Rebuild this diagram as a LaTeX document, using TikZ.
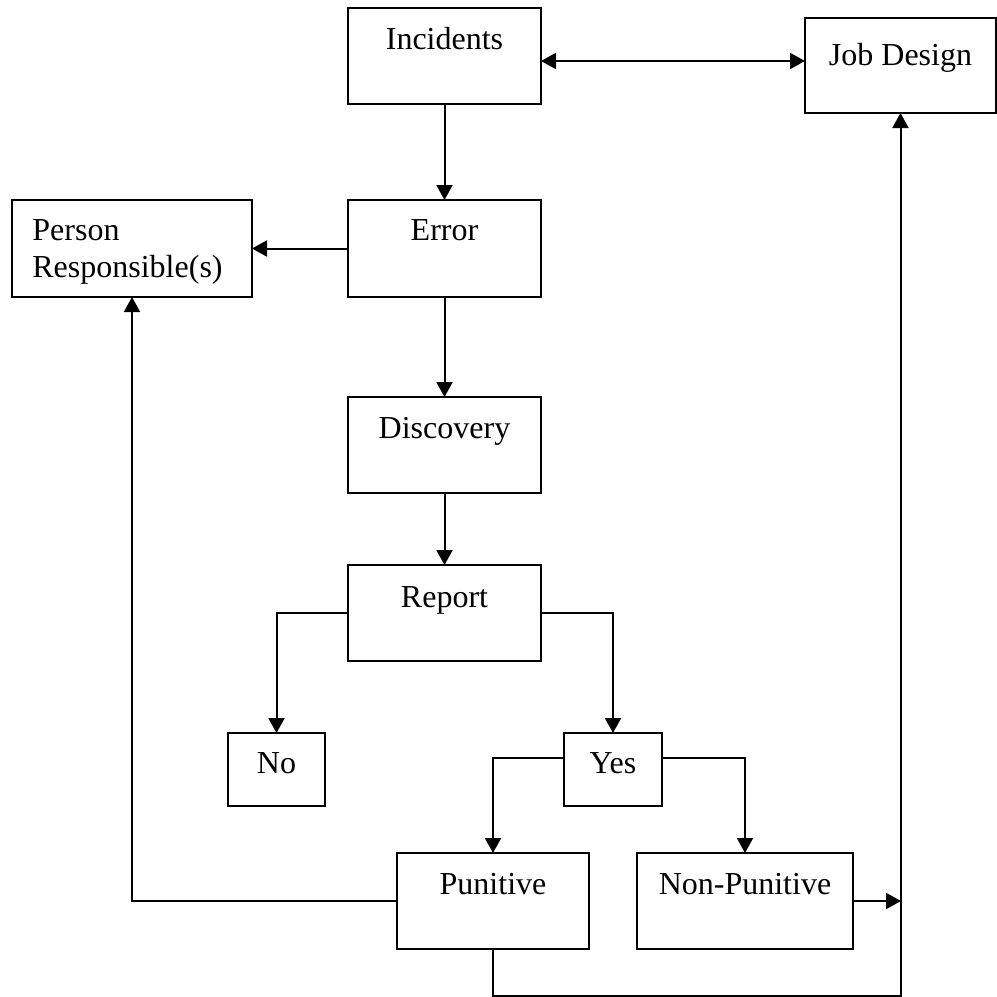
\documentclass[tikz,border=0pt]{standalone}
\usepackage{fontspec}
\setmainfont{Liberation Serif}
\usetikzlibrary{arrows.meta}
\begin{document}
\begin{tikzpicture}[x=0.5pt,y=-0.5pt,
  box/.style={draw=black, line width=1pt, rectangle, inner sep=0pt, outer sep=0pt, fill=white},
  lbl/.style={anchor=base, inner sep=0pt, font=\fontsize{16}{19}\selectfont},
  lbll/.style={anchor=base west, inner sep=0pt, font=\fontsize{16}{19}\selectfont},
  arr/.style={line width=1pt, -{Triangle[length=7.5pt,width=8pt]}},
  arrboth/.style={line width=1pt, {Triangle[length=7.5pt,width=8pt]}-{Triangle[length=7.5pt,width=8pt]}}]
\useasboundingbox (0,0) rectangle (997,997);
% boxes
\node[box, minimum width=96.5pt, minimum height=48pt] (inc) at (444.5,56) {};
\node[box, minimum width=95.5pt, minimum height=47.5pt] (job) at (900.5,65.5) {};
\node[box, minimum width=120pt, minimum height=48.5pt] (per) at (132,248.5) {};
\node[box, minimum width=96.5pt, minimum height=48.5pt] (err) at (444.5,248.5) {};
\node[box, minimum width=96.5pt, minimum height=48pt] (dis) at (444.5,445) {};
\node[box, minimum width=96.5pt, minimum height=48pt] (rep) at (444.5,613) {};
\node[box, minimum width=48.5pt, minimum height=36.5pt] (no) at (276.5,769.5) {};
\node[box, minimum width=49pt, minimum height=36.5pt] (yes) at (613,769.5) {};
\node[box, minimum width=96pt, minimum height=48pt] (pun) at (493,901) {};
\node[box, minimum width=108pt, minimum height=48pt] (non) at (745,901) {};
% texts
\node[lbl] (tinc) at (444.5,49) {Incidents};
\node[lbl] (tjob) at (900.5,65) {Job Design};
\node[lbll] (tper1) at (32,240) {Person};
\node[lbll] (tper2) at (32,277) {Responsible(s)};
\node[lbl] (terr) at (444.5,240) {Error};
\node[lbl] (tdis) at (444.5,438) {Discovery};
\node[lbl] (trep) at (444.5,607) {Report};
\node[lbl] (tno) at (276.5,773) {No};
\node[lbl] (tyes) at (613,773) {Yes};
\node[lbl] (tpun) at (493,894) {Punitive};
\node[lbl] (tnon) at (745,894) {Non-Punitive};
% helper coordinates
\coordinate (l61) at (0,61);
\coordinate (l758) at (0,758);
\coordinate (l996) at (0,996);
\coordinate (jn) at (901,901);
% connectors
\draw[arrboth] (inc.east |- l61) -- (job.west |- l61);
\draw[arr] (inc.south) -- (err.north);
\draw[arr] (err.west) -- (per.east);
\draw[arr] (err.south) -- (dis.north);
\draw[arr] (dis.south) -- (rep.north);
\draw[arr] (rep.west) -| (no.north);
\draw[arr] (rep.east) -| (yes.north);
\draw[arr] (yes.west |- l758) -| (pun.north);
\draw[arr] (yes.east |- l758) -| (non.north);
\draw[arr] (pun.west) -| (per.south);
\draw[arr] (non.east) -- (jn);
\draw[arr] (pun.south) -- (pun.south |- l996) -| (job.south);
\end{tikzpicture}
\end{document}
